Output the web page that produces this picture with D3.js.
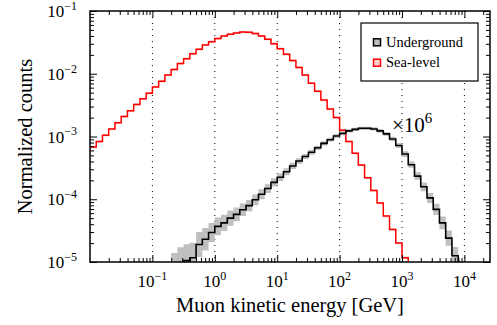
<html>
<head>
<script src="https://cdn.jsdelivr.net/npm/d3@7"></script>
<style>
	body { margin:0; background:white; }
	text, tspan { font-family:"Liberation Serif","Times New Roman",serif; }
</style>
</head>
<body>
<svg id="svg" width="497" height="325"></svg>
<script>
// histogram data, 10 log bins per decade
const binsPerDecade = 10;
// sea-level spectrum, first bin starts at 10^-2 GeV
const seaStartExp = -2;
const seaLevel = [6.8e-4, 8.3e-4, 1.05e-3, 1.32e-3, 1.66e-3, 2.09e-3, 2.57e-3, 3.24e-3, 3.98e-3, 4.9e-3,
	6.17e-3, 7.59e-3, 9.55e-3, 1.17e-2, 1.45e-2, 1.74e-2, 2.09e-2, 2.45e-2, 2.88e-2, 3.24e-2,
	3.63e-2, 3.98e-2, 4.27e-2, 4.47e-2, 4.62e-2, 4.57e-2, 4.37e-2, 3.98e-2, 3.55e-2, 3.02e-2,
	2.51e-2, 2.04e-2, 1.62e-2, 1.26e-2, 9.55e-3, 7.08e-3, 5.25e-3, 3.8e-3, 2.75e-3, 2.0e-3,
	1.26e-3, 8.3e-4, 5.4e-4, 3.5e-4, 2.2e-4, 1.38e-4, 8.7e-5, 5.4e-5, 3.3e-5, 2.0e-5,
	1.17e-5, 5e-6];
// underground spectrum (x10^6), first bin starts at 10^-0.7 GeV
const ugStartExp = -0.7;
const underground = [7e-6, 9e-6, 1.05e-5, 1.17e-5, 1.9e-5, 2.3e-5, 2.95e-5, 3.7e-5, 4.2e-5, 5.0e-5,
	5.75e-5, 6.8e-5, 7.9e-5, 9.8e-5, 1.2e-4, 1.48e-4, 1.86e-4, 2.24e-4, 2.75e-4, 3.39e-4,
	4.07e-4, 4.79e-4, 5.62e-4, 6.6e-4, 7.76e-4, 8.9e-4, 1.02e-3, 1.12e-3, 1.23e-3, 1.30e-3,
	1.35e-3, 1.35e-3, 1.32e-3, 1.23e-3, 1.10e-3, 9.1e-4, 7.2e-4, 5.25e-4, 3.55e-4, 2.34e-4,
	1.58e-4, 1.05e-4, 6.9e-5, 4.2e-5, 2.4e-5, 1.26e-5, 7e-6];
// uncertainty half-width in decades
const undergroundErr = [0.30, 0.28, 0.26, 0.24, 0.20, 0.18, 0.15, 0.14, 0.13, 0.12,
	0.11, 0.10, 0.09, 0.085, 0.08, 0.07, 0.065, 0.06, 0.055, 0.05,
	0.045, 0.04, 0.04, 0.035, 0.035, 0.03, 0.03, 0.03, 0.025, 0.025,
	0.025, 0.025, 0.025, 0.03, 0.03, 0.035, 0.04, 0.045, 0.05, 0.06,
	0.07, 0.08, 0.09, 0.10, 0.12, 0.14, 0.17];
const seaErr = 0.018;

const xMajor = [1e-1, 1e0, 1e1, 1e2, 1e3, 1e4];
const xExps = [-1, 0, 1, 2, 3, 4];
const yMajor = [1e-5, 1e-4, 1e-3, 1e-2, 1e-1];
const yExps = [-5, -4, -3, -2, -1];
const legendNames = ["Underground", "Sea-level"];

const serif = '"Liberation Serif","Times New Roman",serif';
const dims = { width: 497, height: 325 };
const margins = { left: 90, right: 7, top: 11, bottom: 63 };
const plotR = dims.width - margins.right;
const plotB = dims.height - margins.bottom;

let xScale = d3.scaleLog().domain([1e-2, Math.pow(10, 4.41)]).range([margins.left, plotR]);
let yScale = d3.scaleLog().domain([1e-5, 1e-1]).range([plotB, margins.top]);

let mySvg = d3.select('#svg');

mySvg.append("clipPath").attr("id", "clip")
	.append("rect")
	.attr("x", margins.left).attr("y", margins.top)
	.attr("width", plotR - margins.left).attr("height", plotB - margins.top);

// dotted grid lines at each labelled decade
mySvg.append("g").selectAll("line").data(xMajor).enter().append("line")
	.attr("x1", d => xScale(d)).attr("x2", d => xScale(d))
	.attr("y1", margins.top).attr("y2", plotB)
	.attr("stroke", "black").attr("stroke-width", 1)
	.attr("stroke-dasharray", "1,5");

function stepPoints(vals, startExp) {
	let pts = [];
	vals.forEach((v, i) => {
		let lo = Math.pow(10, startExp + i / binsPerDecade);
		let hi = Math.pow(10, startExp + (i + 1) / binsPerDecade);
		pts.push({ e: lo, v: v, i: i });
		pts.push({ e: hi, v: v, i: i });
	});
	return pts;
}

let line = d3.line().x(d => xScale(d.e)).y(d => yScale(d.v));

let plot = mySvg.append("g").attr("clip-path", "url(#clip)");

// underground error band
let ugPts = stepPoints(underground, ugStartExp);
plot.append("path")
	.datum(ugPts)
	.attr("d", d3.area()
		.x(d => xScale(d.e))
		.y0(d => yScale(d.v * Math.pow(10, -undergroundErr[d.i])))
		.y1(d => yScale(d.v * Math.pow(10, undergroundErr[d.i]))))
	.attr("fill", "#c0c0c0");

// sea-level faint band
let seaPts = stepPoints(seaLevel, seaStartExp);
plot.append("path")
	.datum(seaPts)
	.attr("d", d3.area()
		.x(d => xScale(d.e))
		.y0(d => yScale(d.v * Math.pow(10, -seaErr)))
		.y1(d => yScale(d.v * Math.pow(10, seaErr))))
	.attr("fill", "#ffc4c4");

plot.append("path").datum(seaPts).attr("d", line)
	.attr("fill", "none").attr("stroke", "#ff0000").attr("stroke-width", 1.5);

plot.append("path").datum(ugPts).attr("d", line)
	.attr("fill", "none").attr("stroke", "black").attr("stroke-width", 1.6);

// AXES: inward ticks on all four sides
let xMinor = [];
for (let k = -2; k <= 4; k++) for (let m = 2; m <= 9; m++) {
	let v = m * Math.pow(10, k);
	if (v < xScale.domain()[1]) xMinor.push(v);
}
let yMinor = [];
for (let k = -5; k <= -2; k++) for (let m = 2; m <= 9; m++) yMinor.push(m * Math.pow(10, k));

function addAxis(axisFn, scale, vals, len, tr) {
	let g = mySvg.append("g").attr("transform", tr)
		.call(axisFn(scale).tickValues(vals).tickSizeInner(-len).tickSizeOuter(0).tickFormat(""));
	g.select(".domain").remove();
	g.selectAll(".tick line").attr("stroke", "black").attr("stroke-width", 1);
	return g;
}
addAxis(d3.axisBottom, xScale, xMinor, 4, `translate(0,${plotB})`);
addAxis(d3.axisBottom, xScale, xMajor, 7, `translate(0,${plotB})`);
addAxis(d3.axisTop, xScale, xMinor, 4, `translate(0,${margins.top})`);
addAxis(d3.axisTop, xScale, xMajor, 7, `translate(0,${margins.top})`);
addAxis(d3.axisLeft, yScale, yMinor, 4, `translate(${margins.left},0)`);
addAxis(d3.axisLeft, yScale, yMajor, 7, `translate(${margins.left},0)`);
addAxis(d3.axisRight, yScale, yMinor, 4, `translate(${plotR},0)`);
addAxis(d3.axisRight, yScale, yMajor, 7, `translate(${plotR},0)`);

// frame
mySvg.append("rect")
	.attr("x", margins.left).attr("y", margins.top)
	.attr("width", plotR - margins.left).attr("height", plotB - margins.top)
	.attr("fill", "none").attr("stroke", "black").attr("stroke-width", 1.5);

function powLabel(sel, exp, baseSize, supSize) {
	sel.append("tspan").attr("font-size", baseSize).attr("font-family", serif).text("10");
	sel.append("tspan").attr("font-size", supSize).attr("font-family", serif)
		.attr("dy", -baseSize * 0.42)
		.text(String(exp).replace("-", "\u2212"));
}

// tick labels
xMajor.forEach((v, i) => {
	let t = mySvg.append("text").attr("x", xScale(v)).attr("y", 287)
		.attr("font-family", serif).attr("text-anchor", "middle");
	powLabel(t, xExps[i], 17, 12);
});
yMajor.forEach((v, i) => {
	let t = mySvg.append("text").attr("x", 77).attr("y", yScale(v) + 6)
		.attr("font-family", serif).attr("text-anchor", "end");
	powLabel(t, yExps[i], 17, 12);
});

// axis titles
mySvg.append("text").attr("x", (margins.left + plotR) / 2).attr("y", 311.5)
	.attr("text-anchor", "middle").attr("font-size", 20.5).attr("font-family", serif)
	.text("Muon kinetic energy [GeV]");
mySvg.append("text")
	.attr("transform", `translate(31.5,${(margins.top + plotB) / 2}) rotate(-90)`)
	.attr("text-anchor", "middle").attr("font-size", 20.5).attr("font-family", serif)
	.text("Normalized counts");

// scale factor annotation
let note = mySvg.append("text").attr("x", 392).attr("y", 131.5).attr("font-family", serif);
note.append("tspan").attr("font-size", 21).attr("font-family", serif).text("\u00d7");
powLabel(note, 6, 21, 15);

// LEGEND
let lg = mySvg.append("g");
lg.append("rect").attr("x", 361).attr("y", 23).attr("width", 117).attr("height", 58)
	.attr("fill", "white").attr("stroke", "black").attr("stroke-width", 1.2);
let legColors = [{ s: "black", f: "#c0c0c0" }, { s: "#ff0000", f: "#ffd0d0" }];
legendNames.forEach((name, i) => {
	let cy = 42.3 + i * 20.4;
	lg.append("rect").attr("x", 373.5).attr("y", cy - 3.5).attr("width", 7).attr("height", 7)
		.attr("fill", legColors[i].f).attr("stroke", legColors[i].s).attr("stroke-width", 1.5);
	lg.append("text").attr("x", 386).attr("y", cy + 4.5).attr("font-size", 14.5)
		.attr("font-family", serif).text(name);
});
</script>
</body>
</html>
